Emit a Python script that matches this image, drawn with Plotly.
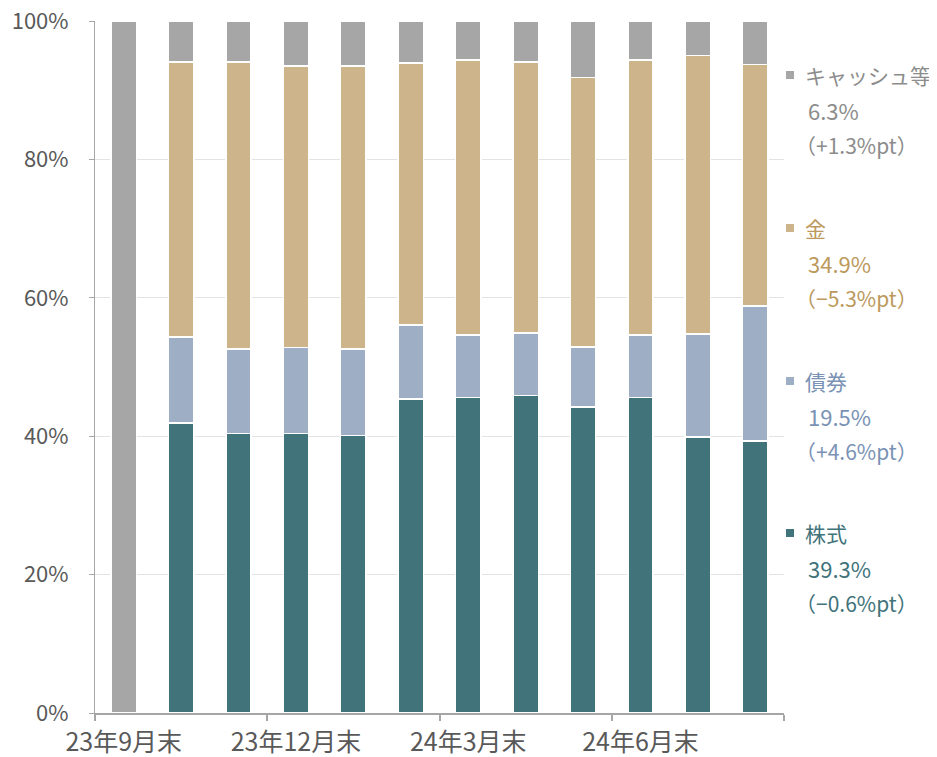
import plotly.graph_objects as go

# ---- data ----
months = ["23年9月末", "23年10月末", "23年11月末", "23年12月末", "24年1月末", "24年2月末",
          "24年3月末", "24年4月末", "24年5月末", "24年6月末", "24年7月末", "24年8月末"]
tick_labels = ["23年9月末", "23年12月末", "24年3月末", "24年6月末"]
stock = [0, 41.9, 40.4, 40.4, 40.1, 45.4, 45.6, 45.9, 44.2, 45.6, 39.9, 39.3]
bond = [0, 12.4, 12.2, 12.4, 12.5, 10.7, 9.0, 9.0, 8.7, 9.0, 14.9, 19.5]
gold = [0, 39.8, 41.5, 40.7, 40.9, 37.8, 39.8, 39.2, 38.9, 39.8, 40.2, 34.9]
cash = [100, 5.9, 5.9, 6.5, 6.5, 6.1, 5.6, 5.9, 8.2, 5.6, 5.0, 6.3]
y_ticks = [0, 20, 40, 60, 80, 100]

series = [
    ("株式", stock, "#41737A", "#41737A"),
    ("債券", bond, "#9EAEC4", "#7A92B4"),
    ("金", gold, "#CDB48A", "#BC995C"),
    ("キャッシュ等", cash, "#A6A6A6", "#8C8C8C"),
]

FONT = "Noto Sans CJK JP"
OFF = 8  # page body margin
W, H = 937 - OFF, 757 - OFF
# plot area in window pixels: x 95..784, y 21..713
PX0, PX1, PY0, PY1 = 95, 784, 21, 713
ML, MR, MT, MB = PX0 - OFF, W - (PX1 - OFF), PY0 - OFF, H - (PY1 - OFF)
PW, PH = PX1 - PX0, PY1 - PY0

x_idx = list(range(len(months)))

fig = go.Figure()
for name, vals, col, _ in series:
    fig.add_trace(go.Bar(
        x=x_idx, y=vals, name=name,
        marker=dict(color=col, line=dict(color="white", width=1.5)),
        showlegend=False, hoverinfo="skip"))

label_idx = [months.index(m) for m in tick_labels]
boundaries = [i - 0.5 for i in label_idx] + [len(months) - 0.5]

fig.update_layout(
    width=W, height=H,
    margin=dict(l=ML, r=MR, t=MT, b=MB, autoexpand=False),
    barmode="stack", bargap=0.56,
    plot_bgcolor="white", paper_bgcolor="white",
    font=dict(family=FONT, size=22, color="#595959"),
    xaxis=dict(
        range=[-0.5, len(months) - 0.5], automargin=False,
        tickmode="array", tickvals=label_idx, ticktext=tick_labels,
        ticks="", showgrid=False, zeroline=False,
        showline=True, linecolor="#A6A6A6", linewidth=2,
        tickfont=dict(size=25, color="#595959"),
        ticklabelstandoff=6, ticklabeloverflow="allow",
        minor=dict(tickmode="array", tickvals=boundaries, ticks="outside",
                   ticklen=6, tickcolor="#A6A6A6", tickwidth=1.5, showgrid=False),
    ),
    yaxis=dict(
        range=[0, 100], tickmode="array", tickvals=y_ticks, automargin=False,
        ticktext=[f"{v}%" for v in y_ticks],
        showgrid=True, gridcolor="#E3E3E3", gridwidth=1,
        zeroline=False, showline=True, linecolor="#A6A6A6", linewidth=1,
        ticks="outside", ticklen=5, tickcolor="#A6A6A6",
        tickfont=dict(size=22, color="#595959"),
        ticklabelstandoff=16, ticklabeloverflow="allow",
    ),
)


def px_x(p):
    return (p - PX0) / PW


def px_y(p):
    return (PY1 - p) / PH


# legend-like labels on the right, top-down: cash, gold, bond, stock
label_rows = {"キャッシュ等": 75, "金": 228, "債券": 381, "株式": 533}
row_gap = 35
LF = 21
for name, vals, col, tcol in series:
    y0 = label_rows[name]
    last, prev = vals[-1], vals[-2]
    diff = last - prev
    sign = "+" if diff >= 0 else "−"
    fig.add_shape(type="rect", xref="paper", yref="paper",
                  x0=px_x(786), x1=px_x(794), y0=px_y(y0 + 4), y1=px_y(y0 - 4),
                  fillcolor=col, line=dict(width=0))
    fig.add_annotation(xref="paper", yref="paper", x=px_x(803), y=px_y(y0),
                       xanchor="left", yanchor="middle", showarrow=False,
                       text=name, font=dict(size=LF, color=tcol, family=FONT))
    fig.add_annotation(xref="paper", yref="paper", x=px_x(806), y=px_y(y0 + row_gap),
                       xanchor="left", yanchor="middle", showarrow=False,
                       text=f"{last:.1f}%", font=dict(size=LF + 1, color=tcol, family=FONT))
    fig.add_annotation(xref="paper", yref="paper", x=px_x(793), y=px_y(y0 + 2 * row_gap),
                       xanchor="left", yanchor="middle", showarrow=False,
                       text=f"（{sign}{abs(diff):.1f}%pt）",
                       font=dict(size=LF, color=tcol, family=FONT))

fig.write_html("out.html")
